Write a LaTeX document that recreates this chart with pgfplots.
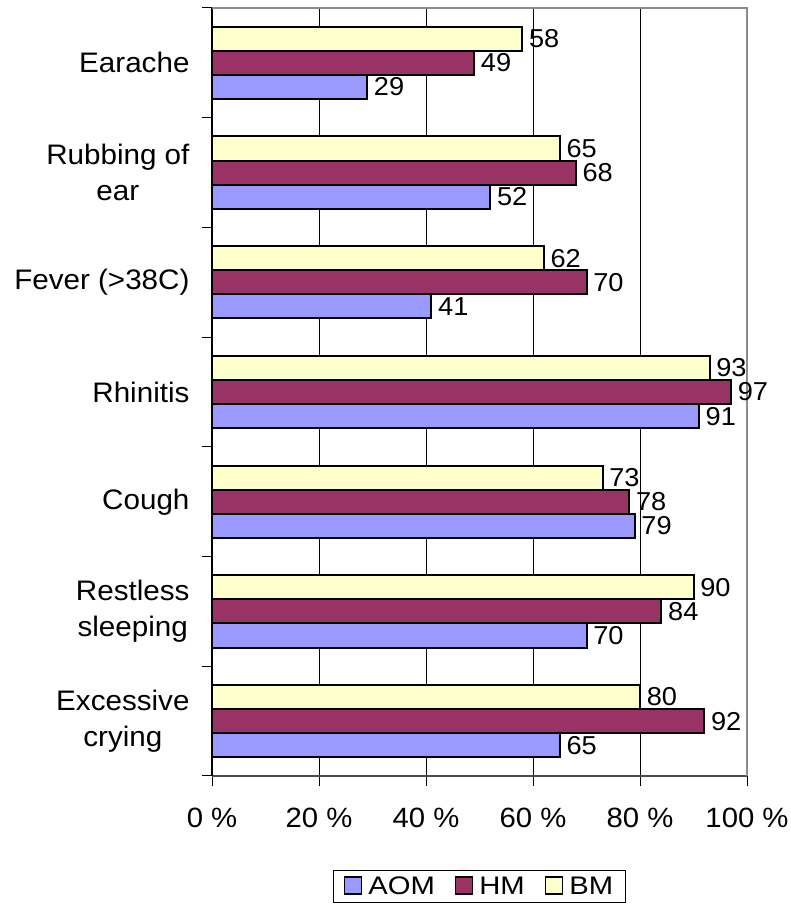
\documentclass[border=0pt]{standalone}
\usepackage{pgfplots}
\pgfplotsset{compat=1.18}
\usepackage{fontspec}
\setmainfont{Liberation Sans}[FakeStretch=1.05]
\newfontfamily\legfont{Liberation Sans}[FakeStretch=1.15]
\definecolor{aom}{HTML}{9999FF}
\definecolor{hm}{HTML}{993366}
\definecolor{bm}{HTML}{FFFFCC}
\begin{document}
\begin{tikzpicture}
\path[use as bounding box] (0,0) rectangle (791bp,911bp);
\begin{axis}[
  at={(212bp,135bp)}, anchor=south west,
  scale only axis, width=535bp, height=768bp,
  xbar, bar width=0.22,
  clip=false,
  /pgf/number format/assume math mode=true,
  xmin=0, xmax=100, ymin=-0.5, ymax=6.5,
  axis x line*=bottom, axis y line*=left,
  x axis line style={draw=black!70, line width=1.5bp},
  y axis line style={draw=black, line width=1.2bp},
  xtick={0,20,...,100},
  xticklabels={0 \%,20 \%,40 \%,60 \%,80 \%,100 \%},
  xticklabel style={font=\fontsize{28}{34}\selectfont, yshift=-19bp},
  xmajorgrids,
  grid style={black, line width=1bp},
  ytick={-0.5,0.5,...,6.5},
  yticklabels={},
  extra y ticks={0,1,2,3,4,5,6},
  extra y tick labels={{Excessive\\crying},{Restless\\sleeping},{Cough},{Rhinitis},{Fever (>38C)},{Rubbing of\\ear},{Earache}},
  extra y tick style={major tick length=0pt, yticklabel style={align=center, font=\fontsize{28.3}{36}\selectfont, xshift=-19bp}},
  tick align=outside,
  major tick length=10bp,
  tick style={black, line width=1bp},
  point meta=x,
  nodes near coords,
  nodes near coords align={horizontal},
  every node near coord/.append style={anchor=west, xshift=2.5bp, font=\fontsize{26}{30}\selectfont, black, /pgf/number format/assume math mode=true},
  legend style={at={(0.5,-0.123)}, anchor=north, legend columns=3, draw=black, line width=0.8bp,
     font=\legfont\fontsize{25.5}{30}\selectfont, inner xsep=10bp, inner ysep=4bp,
     /tikz/every even column/.append style={column sep=18bp},
     /tikz/every odd column/.append style={column sep=4bp}},
  legend image code/.code={\draw[#1, draw=black, line width=1.5bp] (0bp,-7.5bp) rectangle (17bp,9.5bp);},
]
\addplot[fill=aom, draw=black, line width=2bp, bar shift=-0.22] coordinates {(65,0) (70,1) (79,2) (91,3) (41,4) (52,5) (29,6)};
\addplot[fill=hm, draw=black, line width=2bp, bar shift=0] coordinates {(92,0) (84,1) (78,2) (97,3) (70,4) (68,5) (49,6)};
\addplot[fill=bm, draw=black, line width=2bp, bar shift=0.22] coordinates {(80,0) (90,1) (73,2) (93,3) (62,4) (65,5) (58,6)};
\legend{AOM,HM,BM}
\draw[black!45, line width=2.5bp] (rel axis cs:0,1) -- (rel axis cs:1,1) -- (rel axis cs:1,0);
\end{axis}
\end{tikzpicture}
\end{document}
